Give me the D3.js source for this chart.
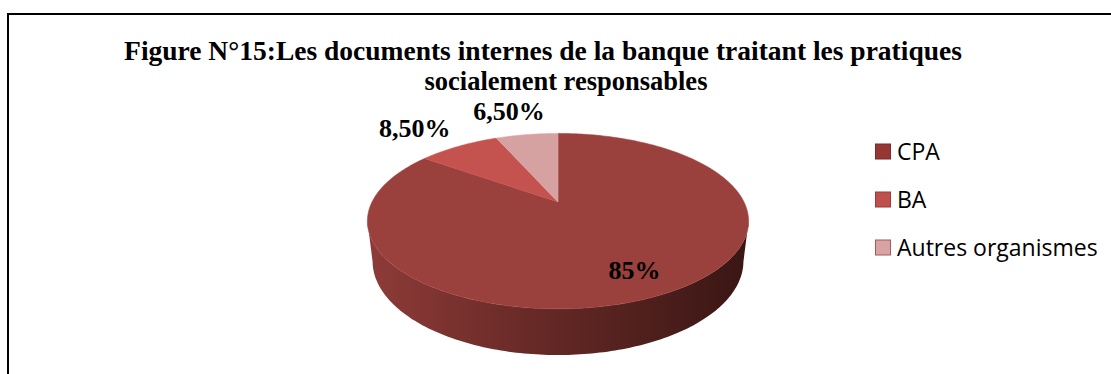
<!DOCTYPE html>
<html><head><meta charset="utf-8">
<script src="https://cdn.jsdelivr.net/npm/d3@7"></script>
<style>html,body{margin:0;padding:0;background:#fff;overflow:hidden}</style>
</head><body>
<svg id="chart" width="1111" height="374"></svg>
<script>
const categories = ["CPA", "BA", "Autres organismes"];
const values = [85, 8.5, 6.5];
const valueLabels = ["85%", "8,50%", "6,50%"];
const colors = ["#9a403d", "#c4524f", "#d6a1a1"];
const legendColors = ["#953735", "#c0504d", "#d9a3a3"];
const legendStroke = ["#7a2a28", "#9b3b38", "#a65a57"];
const titleLines = ["Figure N°15:Les documents internes de la banque traitant les pratiques", "socialement responsables"];

const svg = d3.select("#chart");

// frame
svg.append("path").attr("d", "M1111,14H8V374").attr("fill", "none").attr("stroke", "#000").attr("stroke-width", 2);

// title
const serif = "'Liberation Serif','Times New Roman',serif";
svg.append("text").attr("x", 543).attr("y", 60).attr("text-anchor", "middle")
  .attr("font-family", serif).attr("font-weight", "bold").attr("font-size", 27.5)
  .text(titleLines[0]);
svg.append("text").attr("x", 566).attr("y", 90).attr("text-anchor", "middle")
  .attr("font-family", serif).attr("font-weight", "bold").attr("font-size", 26.5)
  .text(titleLines[1]);

// 3D perspective projection of a unit disc
const cx = 558, cy0 = 202, F = 762.6, D = 4.1;
const tilt = Math.asin(0.449), ct = Math.cos(tilt), st = Math.sin(tilt);
const H = 0.242;
function proj(a, r, y) {
  const X = r * Math.sin(a), Z = r * Math.cos(a), Y = y;
  const ys = Y * ct + Z * st;
  const depth = D + Z * ct - Y * st;
  return [cx + F * X / depth, cy0 - F * ys / depth];
}
function rim(a0, a1, y) {
  const pts = [];
  const steps = Math.max(2, Math.ceil(Math.abs(a1 - a0) / (Math.PI / 180)));
  for (let i = 0; i <= steps; i++) pts.push(proj(a0 + (a1 - a0) * i / steps, 1, y));
  return pts;
}
// silhouette angles (max / min screen x on the top rim)
let aR = 0, aL = 0, maxX = -1e9, minX = 1e9;
for (let a = 0; a < 2 * Math.PI; a += 0.001) {
  const p = proj(a, 1, 0);
  if (p[0] > maxX) { maxX = p[0]; aR = a; }
  if (p[0] < minX) { minX = p[0]; aL = a; }
}

const pie = d3.pie().sort(null).value(d => d)(values);

const defs = svg.append("defs");
const sg = defs.append("linearGradient").attr("id", "sideGrad").attr("gradientUnits", "userSpaceOnUse")
  .attr("x1", minX).attr("x2", maxX).attr("y1", 0).attr("y2", 0);
sg.append("stop").attr("offset", 0).attr("stop-color", "#8e3b38");
sg.append("stop").attr("offset", 0.45).attr("stop-color", "#662926");
sg.append("stop").attr("offset", 1).attr("stop-color", "#391614");

const line = d3.line();

// side walls
pie.forEach((d, i) => {
  const s = Math.max(d.startAngle, aR), e = Math.min(d.endAngle, aL);
  if (e <= s) return;
  const top = rim(s, e, 0), bot = rim(e, s, -H);
  svg.append("path").attr("d", line(top.concat(bot)) + "Z").attr("fill", i === 0 ? "url(#sideGrad)" : d3.color(colors[i]).darker(1));
});

// top faces
pie.forEach((d, i) => {
  const pts = [proj(0, 0, 0)].concat(rim(d.startAngle, d.endAngle, 0));
  svg.append("path").attr("d", line(pts) + "Z").attr("fill", colors[i])
    .attr("stroke", d3.color(colors[i]).brighter(0.15)).attr("stroke-width", 0.6).attr("stroke-linejoin", "round");
});

// data labels
pie.forEach((d, i) => {
  const mid = (d.startAngle + d.endAngle) / 2;
  let x, y, anchor;
  if (i === 0) {
    [x, y] = proj(mid, 0.77, 0); y += 10; anchor = "middle";
  } else if (i === 1) {
    const p = proj(mid, 1, 0); x = p[0] - 8; y = p[1] - 9; anchor = "end";
  } else {
    const p = proj(mid, 1, 0); x = p[0] - 18; y = p[1] - 15; anchor = "middle";
  }
  svg.append("text").attr("x", x).attr("y", y).attr("text-anchor", anchor)
    .attr("font-family", serif).attr("font-weight", "bold").attr("font-size", 26).attr("fill", "#000")
    .text(valueLabels[i]);
});

// legend
const ly = d3.scalePoint().domain(categories).range([151.5, 247.5]);
const lg = svg.append("g");
categories.forEach((c, i) => {
  lg.append("rect").attr("x", 875.5).attr("y", ly(c) - 7.5).attr("width", 15).attr("height", 15)
    .attr("fill", legendColors[i]).attr("stroke", legendStroke[i]).attr("stroke-width", 1);
  lg.append("text").attr("x", 897).attr("y", ly(c) + 8)
    .attr("font-family", "'Open Sans','Liberation Sans',sans-serif").attr("font-size", 23).attr("fill", "#000")
    .text(c);
});
</script>
</body></html>
